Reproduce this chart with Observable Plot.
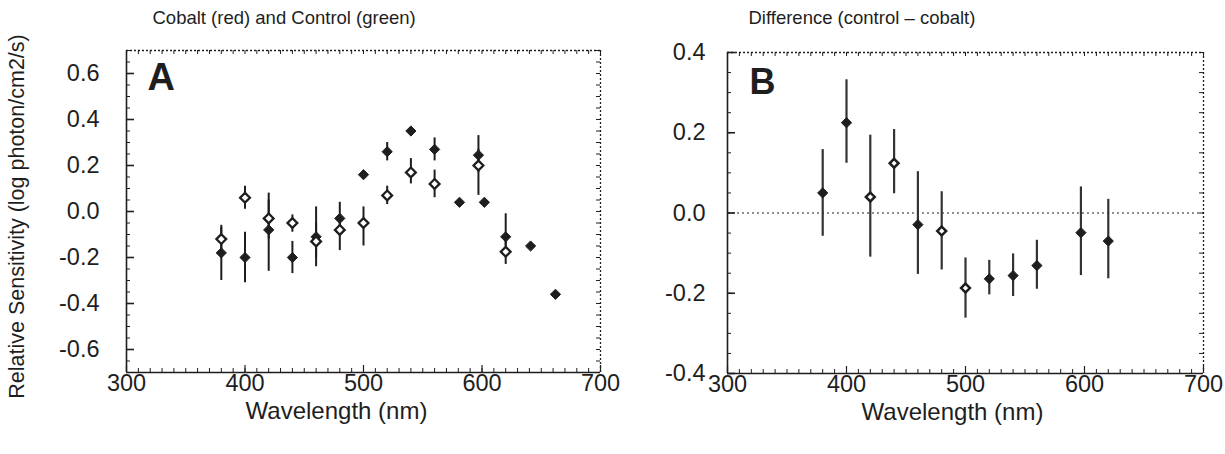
<!DOCTYPE html>
<html><head><meta charset="utf-8">
<script src="https://cdn.jsdelivr.net/npm/d3@7"></script>
<script src="https://cdn.jsdelivr.net/npm/@observablehq/plot@0.6"></script>
<style>
html,body{margin:0;padding:0;background:#fff;}
#wrap{position:relative;width:1225px;height:454px;overflow:hidden;background:#fff;}
#a{position:absolute;left:0;top:0;z-index:2;}
#b{position:absolute;left:612px;top:0;z-index:1;}
svg{overflow:visible;}
</style></head><body><div id="wrap"><div id="b"></div><div id="a"></div></div>
<script>
// ---------- Panel A: cobalt (filled) and control (open) ----------
const titleA = "Cobalt (red) and Control (green)";
const wlCobalt = [380,400,420,440,460,480,500,520,540,560,581,597,602,620,641,662];
const cobalt   = [-0.18,-0.20,-0.08,-0.20,-0.11,-0.03,0.16,0.26,0.35,0.27,0.04,0.245,0.04,-0.11,-0.15,-0.36];
const cobaltLo = [-0.30,-0.31,-0.26,-0.27,-0.20,-0.09,0.16,0.22,0.35,0.22,0.04,0.17,0.04,-0.15,-0.15,-0.36];
const cobaltHi = [-0.06,-0.09,0.05,-0.13,0.02,0.04,0.16,0.30,0.35,0.32,0.04,0.33,0.04,-0.01,-0.15,-0.36];

const wlControl = [380,400,420,440,460,480,500,520,540,560,597,620];
const control   = [-0.12,0.06,-0.03,-0.05,-0.13,-0.08,-0.05,0.07,0.17,0.12,0.20,-0.175];
const controlLo = [-0.17,0.01,-0.12,-0.09,-0.24,-0.17,-0.15,0.03,0.12,0.06,0.07,-0.23];
const controlHi = [-0.07,0.11,0.08,-0.015,-0.05,-0.03,0.02,0.11,0.23,0.18,0.27,-0.13];

// ---------- Panel B: difference ----------
const titleB = "Difference (control \u2013 cobalt)";
const wlDiff = [380,400,420,440,460,480,500,520,540,560,597,620];
const diff   = [0.05,0.225,0.04,0.124,-0.029,-0.045,-0.187,-0.164,-0.156,-0.131,-0.049,-0.07];
const diffLo = [-0.058,0.124,-0.11,0.048,-0.153,-0.142,-0.262,-0.204,-0.208,-0.19,-0.156,-0.164];
const diffHi = [0.158,0.332,0.194,0.208,0.103,0.053,-0.112,-0.118,-0.102,-0.068,0.065,0.034];
const diffMarker = ["filled","filled","open","open","filled","open","open","filled","filled","filled","filled","filled"];

// ---------- axes ----------
const xTicks = [300,400,500,600,700];
const xTickLabels = ["300","400","500","600","700"];
const yTicksA = [-0.6,-0.4,-0.2,0,0.2,0.4,0.6];
const yLabelsA = ["-0.6","-0.4","-0.2","0.0","0.2","0.4","0.6"];
const yTicksB = [-0.4,-0.2,0,0.2,0.4];
const yLabelsB = ["-0.4","-0.2","0.0","0.2","0.4"];
const yTitle = "Relative Sensitivity (log photon/cm2/s)";
const xTitle = "Wavelength (nm)";

const ink = "#1e1e1e";
const font = "'Liberation Sans', Arial, Helvetica, sans-serif";

const cobaltRows = wlCobalt.map((w,i)=>({w, v: cobalt[i], lo: cobaltLo[i], hi: cobaltHi[i]}));
const controlRows = wlControl.map((w,i)=>({w, v: control[i], lo: controlLo[i], hi: controlHi[i]}));
const diffRows = wlDiff.map((w,i)=>({w, v: diff[i], lo: diffLo[i], hi: diffHi[i], m: diffMarker[i]}));

function yTicksFor(yd, step) {
  return d3.range(Math.ceil(yd[0]/step - 1e-9)*step, yd[1] + 1e-9, step).map(v=>+v.toFixed(4));
}
function frameMarks(xd, yd, fw, fh, yMinorStep, yMajorStep) {
  const xMinor = d3.range(xd[0], xd[1] + 0.001, 10);
  const xMajor = d3.range(xd[0], xd[1] + 0.001, 100);
  const yMinor = yTicksFor(yd, yMinorStep);
  const yMajor = yTicksFor(yd, yMajorStep);
  return [
    Plot.tickX(xMinor, {x: d=>d, insetTop: fh - 4, stroke: ink, strokeWidth: 1}),
    Plot.tickX(xMajor, {x: d=>d, insetTop: fh - 7, stroke: ink, strokeWidth: 1.2}),
    Plot.tickX(xMinor, {x: d=>d, insetBottom: fh - 4, stroke: ink, strokeWidth: 1}),
    Plot.tickY(yMinor, {y: d=>d, insetRight: fw - 4, stroke: ink, strokeWidth: 1}),
    Plot.tickY(yMajor, {y: d=>d, insetRight: fw - 8, stroke: ink, strokeWidth: 1.6}),
    Plot.tickY(yMinor, {y: d=>d, insetLeft: fw - 4, stroke: ink, strokeWidth: 1}),
    Plot.ruleX([xd[0]], {stroke: ink, strokeWidth: 1.6}),
    Plot.ruleY([yd[0]], {stroke: ink, strokeWidth: 1.6}),
    Plot.ruleX([xd[1]], {stroke: ink, strokeWidth: 1.3, strokeDasharray: "2,2"}),
    Plot.ruleY([yd[1]], {stroke: ink, strokeWidth: 1.3, strokeDasharray: "2,2"})
  ];
}

const H = 454;
const tickFont = 23.5;

// ---------- Plot A ----------
const xdA = [300,700], ydA = [-0.7,0.7];
const mlA = 126, mrA = 12, mtA = 50, mbA = 82, WA = 612;
const fwA = WA - mlA - mrA, fhA = H - mtA - mbA;
const plotA = Plot.plot({
  width: WA, height: H,
  marginLeft: mlA, marginRight: mrA, marginTop: mtA, marginBottom: mbA,
  x: {domain: xdA}, y: {domain: ydA},
  style: {fontFamily: font, color: ink, background: "transparent", overflow: "visible"},
  marks: [
    Plot.axisX(xTicks, {tickSize: 0, tickPadding: 2, fontSize: tickFont, tickFormat: d => xTickLabels[xTicks.indexOf(d)], label: null}),
    Plot.axisY(yTicksA, {tickSize: 0, tickPadding: 27, fontSize: tickFont, tickFormat: d => yLabelsA[yTicksA.indexOf(d)], label: null}),
    ...frameMarks(xdA, ydA, fwA, fhA, 0.05, 0.2),
    Plot.ruleX(cobaltRows, {x: "w", y1: "lo", y2: "hi", stroke: ink, strokeWidth: 2}),
    Plot.ruleX(controlRows, {x: "w", y1: "lo", y2: "hi", stroke: ink, strokeWidth: 2}),
    Plot.dot(cobaltRows, {x: "w", y: "v", symbol: "diamond2", r: 4.6, fill: ink, stroke: ink, strokeWidth: 1}),
    Plot.dot(controlRows, {x: "w", y: "v", symbol: "diamond2", r: 4.4, fill: "white", stroke: ink, strokeWidth: 2.3}),
    Plot.text([titleA], {frameAnchor: "top-left", dx: 26, dy: -32, textAnchor: "start", lineAnchor: "middle", fontSize: 18.5, fill: ink}),
    Plot.text(["A"], {frameAnchor: "top-left", dx: 21, dy: 27, textAnchor: "start", lineAnchor: "middle", fontSize: 38, fontWeight: "bold", fill: ink}),
    Plot.text([xTitle], {frameAnchor: "bottom", dx: -27, dy: 39, lineAnchor: "middle", fontSize: 24, fill: ink}),
    Plot.text([yTitle], {frameAnchor: "left", rotate: -90, dx: -109, dy: 5, textAnchor: "middle", lineAnchor: "middle", fontSize: 21.5, fill: ink})
  ]
});
document.getElementById("a").appendChild(plotA);

// ---------- Plot B ----------
const xdB = [300,700], ydB = [-0.4,0.4];
const mlB = 115, mrB = 22, mtB = 52, mbB = 81, WB = 613;
const fwB = WB - mlB - mrB, fhB = H - mtB - mbB;
const plotB = Plot.plot({
  width: WB, height: H,
  marginLeft: mlB, marginRight: mrB, marginTop: mtB, marginBottom: mbB,
  x: {domain: xdB}, y: {domain: ydB},
  style: {fontFamily: font, color: ink, background: "transparent", overflow: "visible"},
  marks: [
    Plot.axisX(xTicks, {tickSize: 0, tickPadding: 2, fontSize: tickFont, tickFormat: d => xTickLabels[xTicks.indexOf(d)], label: null}),
    Plot.axisY(yTicksB, {tickSize: 0, tickPadding: 22, fontSize: tickFont, tickFormat: d => yLabelsB[yTicksB.indexOf(d)], label: null}),
    ...frameMarks(xdB, ydB, fwB, fhB, 0.05, 0.2),
    Plot.ruleY([0], {stroke: ink, strokeWidth: 1.2, strokeDasharray: "2,3"}),
    Plot.ruleX(diffRows, {x: "w", y1: "lo", y2: "hi", stroke: "#333", strokeWidth: 2.2}),
    Plot.dot(diffRows.filter(d => d.m === "filled"), {x: "w", y: "v", symbol: "diamond2", r: 4.6, fill: ink, stroke: ink, strokeWidth: 1}),
    Plot.dot(diffRows.filter(d => d.m === "open"), {x: "w", y: "v", symbol: "diamond2", r: 4, fill: "white", stroke: ink, strokeWidth: 2.5}),
    Plot.text([titleB], {frameAnchor: "top-left", dx: 21, dy: -34, textAnchor: "start", lineAnchor: "middle", fontSize: 18.5, fill: ink}),
    Plot.text(["B"], {frameAnchor: "top-left", dx: 22, dy: 30, textAnchor: "start", lineAnchor: "middle", fontSize: 36, fontWeight: "bold", fill: ink}),
    Plot.text([xTitle], {frameAnchor: "bottom", dx: -13, dy: 39, lineAnchor: "middle", fontSize: 24, fill: ink})
  ]
});
document.getElementById("b").appendChild(plotB);
</script>
</body></html>
